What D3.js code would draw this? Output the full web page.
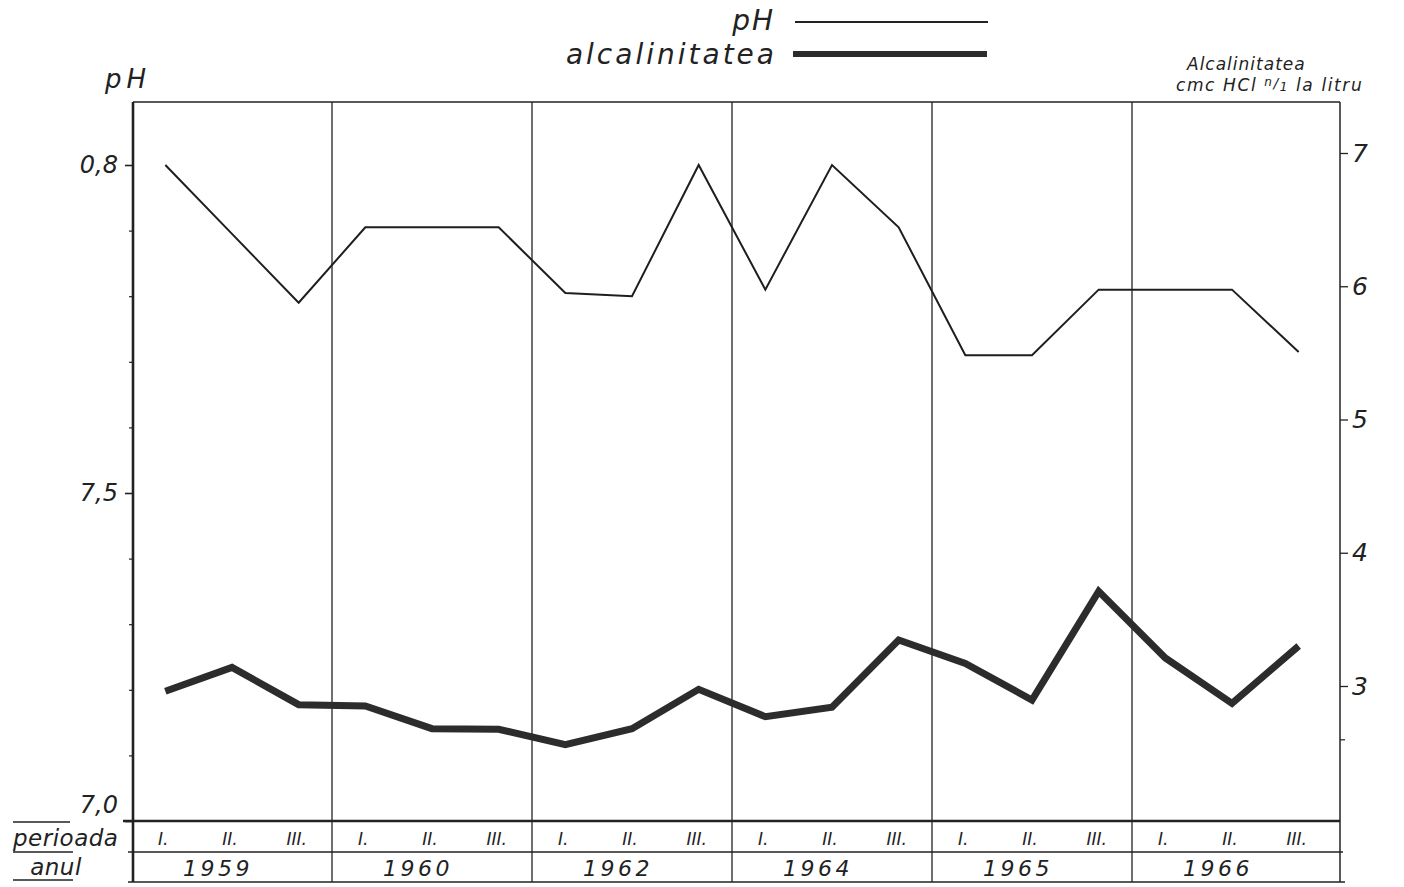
<!DOCTYPE html>
<html>
<head>
<meta charset="utf-8">
<script src="https://cdn.jsdelivr.net/npm/d3@7"></script>
<style>
  body { margin: 0; background: #fff; }
  svg text { font-family: "DejaVu Sans", sans-serif; font-style: oblique; font-weight: 200; fill: #222; }
</style>
</head>
<body>
<svg id="chart" width="1404" height="887"></svg>
<script>
// Sampling years and the three periods within each year
const years = ["1959", "1960", "1962", "1964", "1965", "1966"];
const periods = ["I.", "II.", "III."];

// pH per period (left axis)
const phValues = [8.0, 7.895, 7.79, 7.905, 7.905, 7.905, 7.805, 7.8, 8.0,
                  7.81, 8.0, 7.905, 7.71, 7.71, 7.81, 7.81, 7.81, 7.715];
// Alkalinity, cmc HCl n/1 per litre (right axis)
const alkValues = [2.96, 3.14, 2.86, 2.85, 2.68, 2.675, 2.56, 2.68, 2.975,
                   2.77, 2.84, 3.345, 3.17, 2.895, 3.71, 3.21, 2.87, 3.30];

// Axis ticks and their printed labels
const phTicks = [7.0, 7.5, 8.0];
const phTickLabels = ["7,0", "7,5", "0,8"];
const phMinorTicks = [7.1, 7.2, 7.3, 7.4, 7.6, 7.7, 7.8, 7.9];
const alkTicks = [3, 4, 5, 6, 7];
const alkTickLabels = ["3", "4", "5", "6", "7"];
const alkMinorTicks = [2.6];

const svg = d3.select("#chart");
const ink = "#222";

const L = 133, R = 1340, T = 102, BASE = 821, ROW = 852, B = 882;

const xYear = d3.scaleBand().domain(years).range([132, 1332]);
const xPer = d3.scalePoint().domain(periods).range([0, xYear.bandwidth()]).padding(0.5);
const samples = years.flatMap(y => periods.map(p => ({ year: y, period: p })));
const xOf = d => xYear(d.year) + xPer(d.period);

const yPh = d3.scaleLinear().domain([7.0, 8.0]).range([BASE, 165]);
const yAlk = d3.scaleLinear().domain([3, 7]).range([686, 153]);

// Frame: top edge, year dividers, right edge
svg.append("line").attr("x1", L).attr("x2", R).attr("y1", T).attr("y2", T)
  .attr("stroke", ink).attr("stroke-width", 1.6);
years.slice(1).forEach(y => {
  svg.append("line").attr("x1", xYear(y)).attr("x2", xYear(y)).attr("y1", T).attr("y2", B)
    .attr("stroke", ink).attr("stroke-width", 1.3);
});
svg.append("line").attr("x1", R).attr("x2", R).attr("y1", T).attr("y2", B)
  .attr("stroke", ink).attr("stroke-width", 1.5);
svg.append("line").attr("x1", L).attr("x2", L).attr("y1", T).attr("y2", B)
  .attr("stroke", ink).attr("stroke-width", 2.6);

// Left pH axis
const leftAxis = svg.append("g").attr("transform", `translate(${L},0)`)
  .call(d3.axisLeft(yPh).tickValues(phTicks)
    .tickFormat((d, i) => phTickLabels[i]).tickSize(8).tickPadding(7));
leftAxis.select(".domain").remove();
leftAxis.selectAll("line").attr("stroke", ink).attr("stroke-width", 1.6);
leftAxis.selectAll("text").attr("font-size", 24).attr("fill", ink)
  .attr("font-family", null)
  .attr("dy", (d, i) => i === 0 ? "-0.35em" : "0.32em");
const leftMinor = svg.append("g").attr("transform", `translate(${L},0)`)
  .call(d3.axisLeft(yPh).tickValues(phMinorTicks).tickFormat("").tickSize(4));
leftMinor.select(".domain").remove();
leftMinor.selectAll("line").attr("stroke", ink).attr("stroke-width", 1.2);

// Right alkalinity axis
const rightAxis = svg.append("g").attr("transform", `translate(${R},0)`)
  .call(d3.axisRight(yAlk).tickValues(alkTicks)
    .tickFormat((d, i) => alkTickLabels[i]).tickSize(8).tickPadding(4));
rightAxis.select(".domain").remove();
rightAxis.selectAll("line").attr("stroke", ink).attr("stroke-width", 1.3);
rightAxis.selectAll("text").attr("font-size", 25).attr("fill", ink).attr("font-family", null);
const rightMinor = svg.append("g").attr("transform", `translate(${R},0)`)
  .call(d3.axisRight(yAlk).tickValues(alkMinorTicks).tickFormat("").tickSize(5));
rightMinor.select(".domain").remove();
rightMinor.selectAll("line").attr("stroke", ink).attr("stroke-width", 1.2);

// Data lines
const phLine = d3.line().x((d, i) => xOf(samples[i])).y(d => yPh(d));
const alkLine = d3.line().x((d, i) => xOf(samples[i])).y(d => yAlk(d));

svg.append("path").datum(alkValues).attr("d", alkLine)
  .attr("fill", "none").attr("stroke", "#2c2c2c").attr("stroke-width", 7)
  .attr("stroke-linejoin", "miter");
svg.append("path").datum(phValues).attr("d", phLine)
  .attr("fill", "none").attr("stroke", "#1e1e1e").attr("stroke-width", 2)
  .attr("stroke-linejoin", "miter");

// Period / year table under the plot
svg.append("line").attr("x1", 123).attr("x2", R).attr("y1", BASE).attr("y2", BASE)
  .attr("stroke", ink).attr("stroke-width", 2.6);
svg.append("line").attr("x1", 128).attr("x2", 1343).attr("y1", ROW).attr("y2", ROW)
  .attr("stroke", ink).attr("stroke-width", 1.3);
svg.append("line").attr("x1", 128).attr("x2", 1345).attr("y1", B).attr("y2", B)
  .attr("stroke", ink).attr("stroke-width", 1.6);

svg.append("g").selectAll("text").data(samples).join("text")
  .attr("x", d => xOf(d) - 2).attr("y", 845)
  .attr("text-anchor", "middle").attr("font-size", 17)
  .text(d => d.period);

svg.append("g").selectAll("text").data(years).join("text")
  .attr("x", d => xYear(d) + xPer("II.") - 14).attr("y", 876)
  .attr("text-anchor", "middle").attr("font-size", 22).attr("letter-spacing", 3.5)
  .text(d => d);

// Row headers on the left
svg.append("text").attr("x", 13).attr("y", 846).attr("font-size", 23)
  .attr("letter-spacing", 0.5).text("perioada");
svg.append("text").attr("x", 56).attr("y", 875).attr("text-anchor", "middle")
  .attr("font-size", 23).attr("letter-spacing", 0.5).text("anul");
[[822, 70], [852, 73], [880, 73]].forEach(([y, x2]) => {
  svg.append("line").attr("x1", 13).attr("x2", x2).attr("y1", y).attr("y2", y)
    .attr("stroke", ink).attr("stroke-width", 1.5);
});

// Axis titles
svg.append("text").attr("x", 105).attr("y", 88).attr("font-size", 26)
  .attr("letter-spacing", 5).text("pH");
svg.append("text").attr("x", 1187).attr("y", 70).attr("font-size", 17)
  .attr("letter-spacing", 1).text("Alcalinitatea");
const unit = svg.append("text").attr("x", 1176).attr("y", 91).attr("font-size", 17)
  .attr("letter-spacing", 1.6);
unit.append("tspan").text("cmc HCl ");
unit.append("tspan").attr("font-size", 12).attr("dy", -5).text("n");
unit.append("tspan").attr("font-size", 14).attr("dy", 2).text("/");
unit.append("tspan").attr("font-size", 12).attr("dy", 3).text("1");
unit.append("tspan").attr("dy", 0).text(" la litru");

// Legend
svg.append("text").attr("x", 775).attr("y", 30).attr("text-anchor", "end")
  .attr("font-size", 28).attr("letter-spacing", 2).text("pH");
svg.append("line").attr("x1", 795).attr("x2", 988).attr("y1", 22).attr("y2", 22)
  .attr("stroke", ink).attr("stroke-width", 2);
svg.append("text").attr("x", 777).attr("y", 64).attr("text-anchor", "end")
  .attr("font-size", 28).attr("letter-spacing", 3).text("alcalinitatea");
svg.append("line").attr("x1", 793).attr("x2", 987).attr("y1", 54).attr("y2", 54)
  .attr("stroke", "#2c2c2c").attr("stroke-width", 6);
</script>
</body>
</html>
